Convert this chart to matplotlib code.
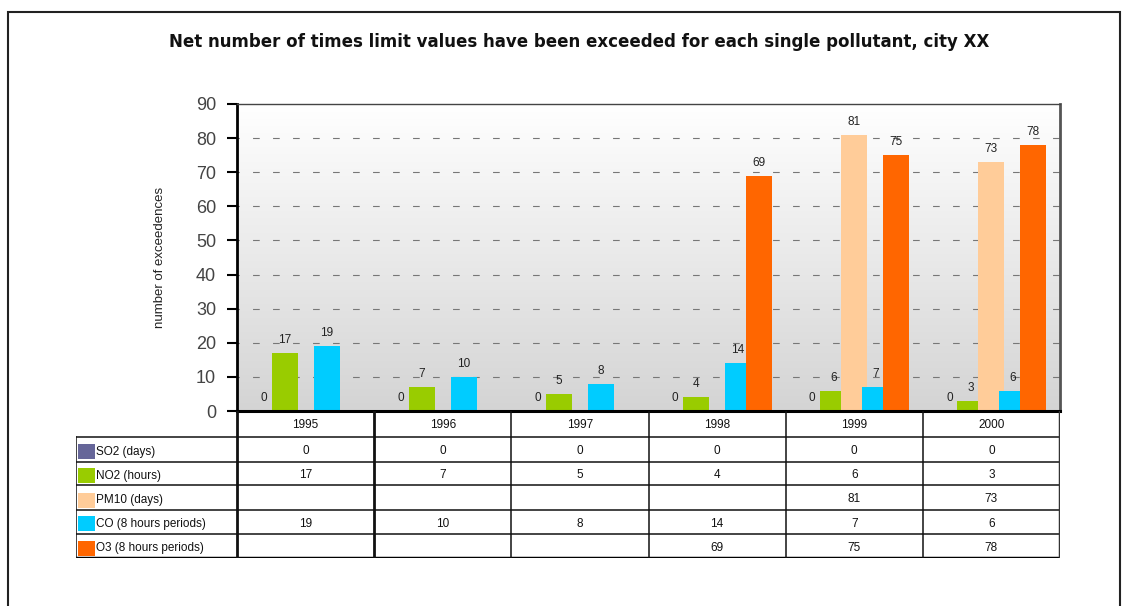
import numpy as np
import matplotlib
matplotlib.use("Agg")
import matplotlib.pyplot as plt
from matplotlib.patches import Rectangle
from matplotlib.colors import LinearSegmentedColormap

plt.rcParams['font.family'] = ['Liberation Sans', 'DejaVu Sans']

years = ['1995', '1996', '1997', '1998', '1999', '2000']
series = ['SO2 (days)', 'NO2 (hours)', 'PM10 (days)', 'CO (8 hours periods)', 'O3 (8 hours periods)']
so2 = [0, 0, 0, 0, 0, 0]
no2 = [17, 7, 5, 4, 6, 3]
pm10 = [None, None, None, None, 81, 73]
co = [19, 10, 8, 14, 7, 6]
o3 = [None, None, None, 69, 75, 78]
colors = ['#666699', '#99CC00', '#FFCC99', '#00CCFF', '#FF6600']

values = [so2, no2, pm10, co, o3]

W, H = 1130, 606
fig = plt.figure(figsize=(W / 100, H / 100), dpi=100)

# outer frame
fig.patches.append(Rectangle((8 / W, -0.05), (1120 - 8) / W, 1 - 12 / H + 0.05,
                             transform=fig.transFigure, fill=False, lw=1.5, ec='#222222'))

fig.text(579 / W, 1 - 42 / H, 'Net number of times limit values have been exceeded for each single pollutant, city XX',
         ha='center', va='center', fontsize=12, fontweight='bold', family='DejaVu Sans', color='#111111')

# main axes: x 237..1060, y 104..411 px
ax = fig.add_axes([237 / W, 1 - 411 / H, 823 / W, 307 / H])
ax.set_xlim(-0.5, 5.5)
ax.set_ylim(0, 90)

# gradient background
cmap = LinearSegmentedColormap.from_list('bg', ['#d4d4d4', '#ffffff'])
grad = np.linspace(0, 1, 256).reshape(-1, 1)
ax.imshow(grad, extent=[0, 1, 0, 1], transform=ax.transAxes, cmap=cmap,
          aspect='auto', origin='lower', zorder=0)

ax.set_yticks(np.arange(0, 91, 10))
ax.set_xticks([])
for yv in range(10, 90, 10):
    ax.axhline(yv, color='#777777', lw=0.8, linestyle=(4, (6, 12)), zorder=1)

x = np.arange(len(years))
step = 0.153
bw = 0.19
for k, (vals, c) in enumerate(zip(values, colors)):
    h = np.array([np.nan if v is None else v for v in vals], dtype=float)
    pos = x + (k - 2) * step
    ax.bar(pos, h, width=bw, color=c, zorder=2 + k, linewidth=0)
    for px, v in zip(pos, vals):
        if v is None:
            continue
        ax.annotate(str(v), (px, v), xytext=(0, 5), textcoords='offset points',
                    ha='center', va='bottom', fontsize=8.5, color='#222222', zorder=10)

ax.tick_params(axis='y', length=7, width=1.5, labelsize=13, labelcolor='#444444', pad=8)
ax.set_ylabel('number of exceedences', fontsize=9.5, color='#222222')
ax.yaxis.set_label_coords(-0.086, 0.5)
ax.spines['left'].set_linewidth(2)
ax.spines['bottom'].set_linewidth(2.2)
ax.spines['top'].set_linewidth(1)
ax.spines['top'].set_color('#444444')
ax.spines['right'].set_linewidth(2)
ax.spines['right'].set_color('#555555')
for s in ax.spines.values():
    s.set_zorder(20)

# data table below the axes: x 76..1060, y 411..558 px
scale = 823 / 6
x_left = -0.5 - (237 - 76) / scale
tax = fig.add_axes([76 / W, 1 - 558 / H, (1060 - 76) / W, 147 / H])
tax.set_xlim(x_left, 5.5)
tax.set_ylim(147, 0)
tax.axis('off')

bounds = [0, 26, 50.5, 74, 99, 122.5, 147]

for j, yr in enumerate(years):
    tax.text(j, (bounds[0] + bounds[1]) / 2 + 1, yr, ha='center', va='center', fontsize=8.5, color='#111111')

for i, (name, vals, c) in enumerate(zip(series, values, colors)):
    top, bot = bounds[i + 1], bounds[i + 2]
    tax.add_patch(Rectangle((x_left + 1.5 / scale, bot - 2.5), 17 / scale, -15, color=c, lw=0))
    tax.text(x_left + 20 / scale, (top + bot) / 2 + 2.5, name, ha='left', va='center', fontsize=8.5, color='#111111')
    for j, v in enumerate(vals):
        if v is None:
            continue
        tax.text(j, (top + bot) / 2 + 2, str(v), ha='center', va='center', fontsize=8.5, color='#111111')

# grid lines of the table
for b in bounds[1:-1]:
    tax.plot([x_left, 5.5], [b, b], color='#111111', lw=1.1, solid_capstyle='butt')
tax.plot([x_left, 5.5], [147, 147], color='#000000', lw=2.5, solid_capstyle='projecting')
tax.plot([x_left, x_left], [bounds[1], 147], color='#111111', lw=1.1)
for xv in np.arange(-0.5, 5.0, 1.0):
    tax.plot([xv, xv], [0, 147], color='#111111', lw=2 if xv in (-0.5, 0.5) else 1.1)
tax.plot([5.5, 5.5], [0, 147], color='#333333', lw=2.5)

fig.savefig('out.png', dpi=100)
